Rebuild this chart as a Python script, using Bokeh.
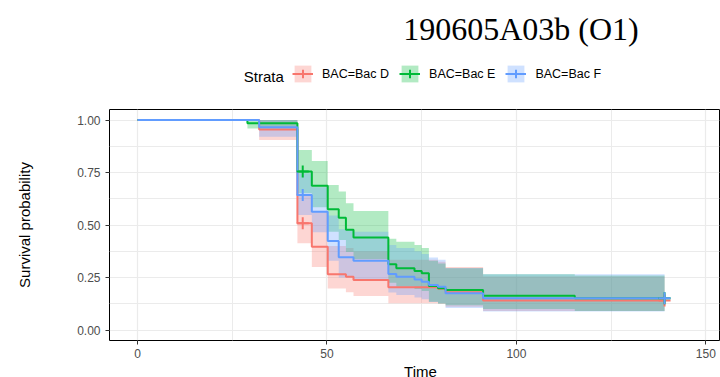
from bokeh.plotting import figure
from bokeh.layouts import column
from bokeh.models import (FixedTicker, NumeralTickFormatter, Legend, LegendItem, Range1d, Label)
from bokeh.embed import file_html
from bokeh.resources import INLINE

# ---- data ----
title_text = "190605A03b (O1)"
legend_title = "Strata"
x_title = "Time"
y_title = "Survival probability"
strata = ["BAC=Bac D", "BAC=Bac E", "BAC=Bac F"]
colors = ["#F8766D", "#00BA38", "#619CFF"]
t_end = 139.1
censor_time = 43.6

d_time = [0, 32.1, 42.2, 46.0, 50.2, 55.0, 57.0, 66.2, 79.3, 81.3, 91.2]
d_surv = [1.0, 0.955, 0.508, 0.397, 0.265, 0.254, 0.238, 0.203, 0.196, 0.180, 0.140]
d_upper = [1.0, 1.0, 0.643, 0.563, 0.400, 0.390, 0.375, 0.335, 0.325, 0.300, 0.255]
d_lower = [1.0, 0.905, 0.413, 0.300, 0.198, 0.180, 0.162, 0.127, 0.125, 0.111, 0.090]

e_time = [0, 29.0, 42.2, 46.0, 50.2, 53.1, 55.0, 57.0, 66.2, 68.3, 73.1, 75.0, 76.9, 79.3, 81.3, 91.2, 115.4]
e_surv = [1.0, 0.985, 0.755, 0.687, 0.575, 0.535, 0.477, 0.440, 0.313, 0.294, 0.281, 0.270, 0.210, 0.199, 0.190, 0.163, 0.151]
e_upper = [1.0, 1.0, 0.857, 0.805, 0.690, 0.659, 0.603, 0.567, 0.435, 0.420, 0.405, 0.390, 0.330, 0.317, 0.294, 0.265, 0.260]
e_lower = [1.0, 0.960, 0.651, 0.585, 0.468, 0.428, 0.372, 0.338, 0.225, 0.207, 0.195, 0.186, 0.135, 0.126, 0.118, 0.100, 0.090]

f_time = [0, 32.1, 42.2, 46.0, 50.2, 53.1, 57.0, 66.2, 68.3, 73.1, 75.0, 76.9, 79.3, 81.3, 91.2]
f_surv = [1.0, 0.965, 0.643, 0.563, 0.424, 0.346, 0.330, 0.267, 0.254, 0.241, 0.230, 0.214, 0.206, 0.175, 0.151]
f_upper = [1.0, 1.0, 0.746, 0.680, 0.545, 0.480, 0.468, 0.405, 0.390, 0.375, 0.362, 0.345, 0.335, 0.295, 0.265]
f_lower = [1.0, 0.920, 0.548, 0.466, 0.330, 0.250, 0.235, 0.178, 0.167, 0.155, 0.146, 0.133, 0.126, 0.105, 0.088]

x_ticks = [0, 50, 100, 150]
x_minor = [25, 75, 125]
y_ticks = [0, 0.25, 0.5, 0.75, 1.0]
y_minor = [0.125, 0.375, 0.625, 0.875]

series = [
    (d_time, d_surv, d_upper, d_lower),
    (e_time, e_surv, e_upper, e_lower),
    (f_time, f_surv, f_upper, f_lower),
]

W = 720
HEAD_H = 108
MAIN_H = 256
FOOT_H = 13
LEFT = 109


def bare(height):
    f = figure(width=W, height=height, output_backend="svg", toolbar_location=None,
               x_range=Range1d(0, W - LEFT - 1), y_range=Range1d(0, height),
               x_axis_type=None, y_axis_type=None,
               min_border_left=LEFT, min_border_right=1, min_border_top=0, min_border_bottom=0)
    f.outline_line_color = None
    f.xgrid.visible = False
    f.ygrid.visible = False
    return f


# ---------------- header: title + legend ----------------
head = bare(HEAD_H)

head_items = []
for name, c in zip(strata, colors):
    b = head.varea_step(x=[-10, -5], y1=[-10, -10], y2=[-5, -5], step_mode="after",
                        fill_color=c, fill_alpha=0.3)
    l = head.step(x=[-10, -5], y=[-10, -10], mode="after", line_color=c, line_width=2)
    s = head.scatter(x=[-10], y=[-10], marker="cross", size=12, line_color=c, line_width=2)
    head_items.append(LegendItem(label=name, renderers=[b, l, s]))

legend = Legend(items=head_items, orientation="horizontal", location=(183, 24),
                glyph_width=21, glyph_height=21, label_standoff=9, spacing=10,
                padding=0, margin=0, border_line_color=None, background_fill_alpha=0,
                label_text_font="Liberation Sans", label_text_font_size="12.5px",
                label_height=21, label_text_color="black")
head.add_layout(legend, "center")

head.add_layout(Label(x=134.3, y=HEAD_H - 75.7, x_units="screen", y_units="screen",
                      text=legend_title, text_font="Liberation Sans", text_font_size="15px",
                      text_baseline="middle", text_color="black"))

head.add_layout(Label(x=293.7, y=HEAD_H - 28, x_units="screen", y_units="screen",
                      text=title_text, text_font="Liberation Serif", text_font_size="32px",
                      text_baseline="middle", text_color="black"))

# ---------------- main survival plot ----------------
p = figure(width=W, height=MAIN_H, output_backend="svg", toolbar_location=None,
           x_range=Range1d(-7.4, 153.6), y_range=Range1d(-0.05, 1.05),
           min_border_left=LEFT, min_border_right=1, min_border_top=1, min_border_bottom=24)

p.outline_line_color = "black"
p.outline_line_width = 1
p.background_fill_color = "white"

for g in (p.xgrid, p.ygrid):
    g.grid_line_color = "#EBEBEB"
    g.grid_line_width = 1.2
    g.minor_grid_line_color = "#EBEBEB"
    g.minor_grid_line_width = 1

p.xaxis.ticker = FixedTicker(ticks=x_ticks, minor_ticks=x_minor)
p.yaxis.ticker = FixedTicker(ticks=y_ticks, minor_ticks=y_minor)
p.xgrid.ticker = p.xaxis.ticker
p.ygrid.ticker = p.yaxis.ticker
p.yaxis.formatter = NumeralTickFormatter(format="0.00")

for ax in (p.xaxis, p.yaxis):
    ax.axis_line_color = None
    ax.minor_tick_line_color = None
    ax.major_tick_in = 0
    ax.major_tick_out = 4
    ax.major_tick_line_color = "#333333"
    ax.major_label_text_font = "Liberation Sans"
    ax.major_label_text_font_size = "12px"
    ax.major_label_text_color = "#4D4D4D"
    ax.axis_label_text_font = "Liberation Sans"
    ax.axis_label_text_font_size = "15px"
    ax.axis_label_text_font_style = "normal"
    ax.axis_label_text_color = "black"
p.xaxis.major_label_standoff = 4
p.yaxis.major_label_standoff = 5

p.yaxis.axis_label = y_title
p.yaxis.axis_label_standoff = 41

for (tt, ss, uu, ll), c in zip(series, colors):
    xs = list(tt) + [t_end]
    p.varea_step(x=xs, y1=list(ll) + [ll[-1]], y2=list(uu) + [uu[-1]],
                 step_mode="after", fill_color=c, fill_alpha=0.3)

for (tt, ss, uu, ll), c in zip(series, colors):
    xs = list(tt) + [t_end]
    p.step(x=xs, y=list(ss) + [ss[-1]], mode="after", line_color=c, line_width=2)

for (tt, ss, uu, ll), c in zip(series, colors):
    s_c = [s for t, s in zip(tt, ss) if t <= censor_time][-1]
    p.scatter(x=[censor_time, t_end], y=[s_c, ss[-1]], marker="cross", size=12,
              line_color=c, line_width=2)

# ---------------- footer: x axis title ----------------
foot = bare(FOOT_H)
foot.add_layout(Label(x=420 - LEFT, y=6, x_units="screen", y_units="screen",
                      text=x_title, text_font="Liberation Sans", text_font_size="15px",
                      text_align="center", text_baseline="middle", text_color="black"))

layout = column(head, p, foot, spacing=0)
open("out.html", "w").write(file_html(layout, INLINE))
